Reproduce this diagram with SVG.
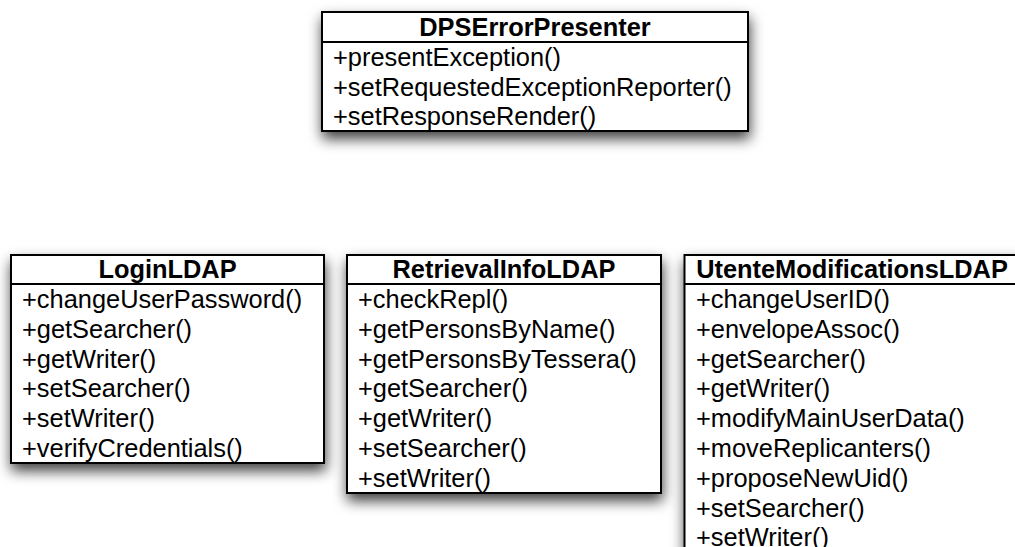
<svg xmlns="http://www.w3.org/2000/svg" width="1015" height="547" viewBox="0 0 1015 547">
  <style>
    .box { fill: #ffffff; stroke: #000000; stroke-width: 2; }
    .sep { stroke: #000000; stroke-width: 2; }
    .title { font-family: "Liberation Sans", Arial, Helvetica, sans-serif; font-size: 25.4px; font-weight: bold; fill: #000000; text-anchor: middle; }
    .op { font-family: "Liberation Sans", Arial, Helvetica, sans-serif; font-size: 25.4px; fill: #000000; }
  </style>
  <defs>
    <filter id="shadow" x="-20%" y="-20%" width="140%" height="160%">
      <feDropShadow dx="1" dy="7" stdDeviation="7" flood-color="#000000" flood-opacity="0.75"/>
    </filter>
  </defs>
  <rect width="1015" height="547" fill="#ffffff"/>

  <!-- class: DPSErrorPresenter -->
  <g id="DPSErrorPresenter">
    <rect class="box" x="322" y="12" width="426" height="119" filter="url(#shadow)"/>
    <line class="sep" x1="322" y1="42" x2="748" y2="42"/>
    <text class="title" x="535" y="35.5">DPSErrorPresenter</text>
    <text class="op" x="333" y="66">+presentException()</text>
    <text class="op" x="333" y="95.7">+setRequestedExceptionReporter()</text>
    <text class="op" x="333" y="125.4">+setResponseRender()</text>
  </g>

  <!-- class: LoginLDAP -->
  <g id="LoginLDAP">
    <rect class="box" x="11" y="255" width="313" height="208" filter="url(#shadow)"/>
    <line class="sep" x1="11" y1="284" x2="324" y2="284"/>
    <text class="title" x="167.5" y="278">LoginLDAP</text>
    <text class="op" x="22" y="308">+changeUserPassword()</text>
    <text class="op" x="22" y="337.8">+getSearcher()</text>
    <text class="op" x="22" y="367.6">+getWriter()</text>
    <text class="op" x="22" y="397.4">+setSearcher()</text>
    <text class="op" x="22" y="427.2">+setWriter()</text>
    <text class="op" x="22" y="457">+verifyCredentials()</text>
  </g>

  <!-- class: RetrievalInfoLDAP -->
  <g id="RetrievalInfoLDAP">
    <rect class="box" x="347" y="255" width="314" height="238" filter="url(#shadow)"/>
    <line class="sep" x1="347" y1="284" x2="661" y2="284"/>
    <text class="title" x="504" y="278">RetrievalInfoLDAP</text>
    <text class="op" x="358" y="308">+checkRepl()</text>
    <text class="op" x="358" y="337.8">+getPersonsByName()</text>
    <text class="op" x="358" y="367.6">+getPersonsByTessera()</text>
    <text class="op" x="358" y="397.4">+getSearcher()</text>
    <text class="op" x="358" y="427.2">+getWriter()</text>
    <text class="op" x="358" y="457">+setSearcher()</text>
    <text class="op" x="358" y="486.8">+setWriter()</text>
  </g>

  <!-- class: UtenteModificationsLDAP (runs past the page edge) -->
  <g id="UtenteModificationsLDAP">
    <rect class="box" x="684.5" y="255" width="336" height="298" filter="url(#shadow)"/>
    <line class="sep" x1="684.5" y1="284" x2="1020" y2="284"/>
    <text class="title" x="852" y="278">UtenteModificationsLDAP</text>
    <text class="op" x="696" y="308">+changeUserID()</text>
    <text class="op" x="696" y="337.8">+envelopeAssoc()</text>
    <text class="op" x="696" y="367.6">+getSearcher()</text>
    <text class="op" x="696" y="397.4">+getWriter()</text>
    <text class="op" x="696" y="427.2">+modifyMainUserData()</text>
    <text class="op" x="696" y="457">+moveReplicanters()</text>
    <text class="op" x="696" y="486.8">+proposeNewUid()</text>
    <text class="op" x="696" y="516.6">+setSearcher()</text>
    <text class="op" x="696" y="546.4">+setWriter()</text>
  </g>

  <!-- no associations are drawn between these classes -->
  <g id="connectors"/>
</svg>
